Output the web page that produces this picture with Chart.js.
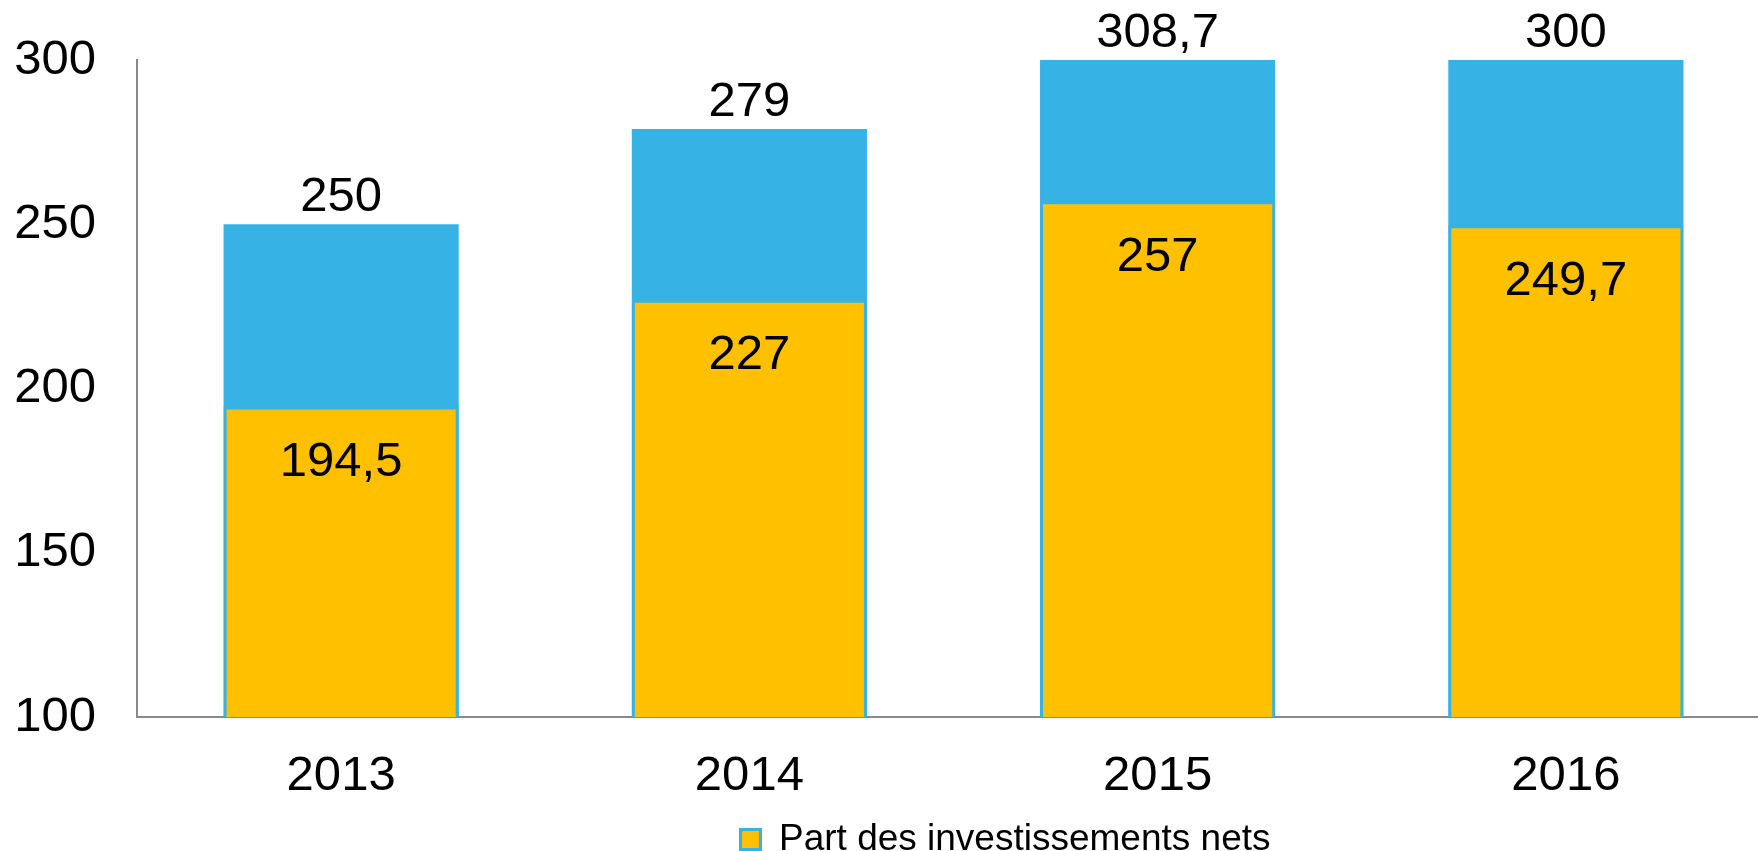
<!DOCTYPE html>
<html>
<head>
<meta charset="utf-8">
<script src="https://cdn.jsdelivr.net/npm/chart.js@4.4.0/dist/chart.umd.min.js"></script>
<style>
  html, body { margin: 0; padding: 0; overflow: hidden; background: #fff; }
  #wrap { position: relative; width: 1770px; height: 870px; }
</style>
</head>
<body>
<div id="wrap"><canvas id="chart1"></canvas></div>
<script>
// données
const annees = ['2013', '2014', '2015', '2016'];
const partNets = [194.5, 227, 257, 249.7];
const totalInvest = [250, 279, 308.7, 300];
const graduations = [100, 150, 200, 250, 300];

const bleu = '#36B2E4';
const jaune = '#FFC000';
const police = "'Liberation Sans', Arial, sans-serif";

const virgule = v => String(v).replace('.', ',');

// étiquettes des valeurs
const etiquettes = {
    id: 'etiquettes',
    afterDatasetsDraw(chart) {
        const ctx = chart.ctx;
        const area = chart.chartArea;
        ctx.save();
        ctx.font = '49px ' + police;
        ctx.fillStyle = '#000';
        ctx.textAlign = 'center';
        ctx.textBaseline = 'middle';
        chart.data.datasets.forEach((ds, i) => {
            chart.getDatasetMeta(i).data.forEach((bar, j) => {
                const top = Math.max(bar.y, area.top);
                const y = i === 0 ? top + 56 : top - 27;
                ctx.fillText(virgule(ds.data[j]), bar.x, y);
            });
        });
        ctx.restore();
    }
};

// légende un peu décalée vers la droite
const decaleLegende = {
    id: 'decaleLegende',
    afterLayout(chart) {
        chart.legend.left += 52;
        chart.legend.right += 52;
    }
};

const ctx1 = document.getElementById('chart1').getContext('2d');
new Chart(ctx1, {
    type: 'bar',
    data: {
        labels: annees,
        datasets: [{
            label: 'Part des investissements nets',
            data: partNets,
            backgroundColor: jaune,
            borderColor: bleu,
            borderWidth: 3,
            borderSkipped: false
        }, {
            label: 'Investissements totaux',
            data: totalInvest,
            backgroundColor: bleu,
            borderWidth: 0
        }]
    },
    options: {
        responsive: true,
        maintainAspectRatio: false,
        animation: false,
        datasets: {
            bar: { grouped: false, barPercentage: 0.576, categoryPercentage: 1 }
        },
        layout: { padding: { top: 60, left: 0, right: 0, bottom: 2 } },
        scales: {
            x: {
                grid: { display: false, drawTicks: false },
                border: { display: true, color: '#8a8a8a', width: 2 },
                ticks: { color: '#000', font: { size: 49, family: police }, padding: 30 },
                afterFit: s => { s.height = 104; s.paddingLeft = 0; s.paddingRight = 0; }
            },
            y: {
                min: graduations[0],
                max: graduations[graduations.length - 1],
                grid: { display: false, drawTicks: false },
                border: { display: true, color: '#8a8a8a', width: 2 },
                ticks: { stepSize: 50, color: '#000', font: { size: 49, family: police }, padding: 41 },
                afterFit: s => { s.width = 137; s.paddingTop = 0; s.paddingBottom = 0; }
            }
        },
        plugins: {
            tooltip: { enabled: false },
            legend: {
                position: 'bottom',
                fullSize: false,
                labels: {
                    color: '#000',
                    font: { size: 37, family: police },
                    boxWidth: 20,
                    boxHeight: 20,
                    padding: 0,
                    filter: item => item.datasetIndex === 0
                }
            }
        }
    },
    plugins: [etiquettes, decaleLegende]
});
</script>
</body>
</html>
